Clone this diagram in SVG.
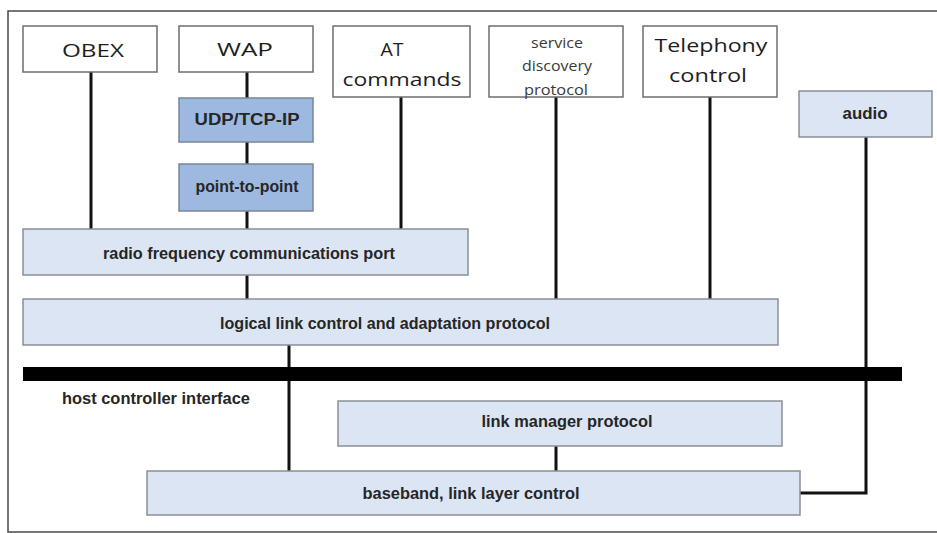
<svg xmlns="http://www.w3.org/2000/svg" width="937" height="533" viewBox="0 0 937 533">
  <style>
    .frame { fill: none; stroke: #4a4a4a; stroke-width: 1.5; }
    .top { fill: #ffffff; stroke: #6e6e6e; stroke-width: 1.5; }
    .mid { fill: #9db9df; stroke: #7a8797; stroke-width: 1.5; }
    .low { fill: #dbe5f3; stroke: #8a8f96; stroke-width: 1.5; }
    .big { font-family: "Open Sans", "DejaVu Sans", sans-serif; font-size: 19px; fill: #1e1e1e; text-anchor: middle; }
    .small { font-family: "Open Sans", "DejaVu Sans", sans-serif; font-size: 14px; fill: #3a3a3a; text-anchor: middle; }
    .lbl { font-family: "Liberation Sans", Arial, sans-serif; font-weight: bold; font-size: 16px; fill: #262626; text-anchor: middle; }
    .wire { fill: none; stroke: #111111; stroke-width: 3; }
  </style>

  <rect width="937" height="533" fill="#ffffff"/>
  <path class="frame" d="M937,11 H8 V532 H937"/>

  <!-- connectors -->
  <g id="connectors">
    <line class="wire" x1="91" y1="72" x2="91" y2="229"/>
    <line class="wire" x1="247" y1="72" x2="247" y2="98"/>
    <line class="wire" x1="247" y1="142" x2="247" y2="164"/>
    <line class="wire" x1="247" y1="211" x2="247" y2="229"/>
    <line class="wire" x1="401" y1="97" x2="401" y2="229"/>
    <line class="wire" x1="247" y1="275" x2="247" y2="299"/>
    <line class="wire" x1="556" y1="97" x2="556" y2="299"/>
    <line class="wire" x1="710" y1="97" x2="710" y2="299"/>
    <line class="wire" x1="289" y1="345" x2="289" y2="471"/>
    <line class="wire" x1="556" y1="446" x2="556" y2="471"/>
    <polyline class="wire" points="866,137 866,493 800,493"/>
  </g>

  <!-- host controller interface bar -->
  <g id="hci">
    <rect x="23" y="367" width="879" height="14" fill="#000000"/>
    <text class="lbl" x="156" y="404" textLength="188" lengthAdjust="spacingAndGlyphs">host controller interface</text>
  </g>

  <g id="obex">
    <rect class="top" x="23" y="26" width="134" height="46"/>
    <text class="big" x="93" y="57" textLength="62" lengthAdjust="spacingAndGlyphs">OBEX</text>
  </g>

  <g id="wap">
    <rect class="top" x="179" y="26" width="134" height="46"/>
    <text class="big" x="245" y="56" textLength="56" lengthAdjust="spacingAndGlyphs">WAP</text>
  </g>

  <g id="at-commands">
    <rect class="top" x="333" y="26" width="137" height="71"/>
    <text class="big" x="392" y="56" textLength="23" lengthAdjust="spacingAndGlyphs">AT</text>
    <text class="big" x="402" y="86" textLength="119" lengthAdjust="spacingAndGlyphs">commands</text>
  </g>

  <g id="sdp">
    <rect class="top" x="489" y="26" width="134" height="71"/>
    <text class="small" x="557" y="48" textLength="52" lengthAdjust="spacingAndGlyphs">service</text>
    <text class="small" x="557" y="71" textLength="70" lengthAdjust="spacingAndGlyphs">discovery</text>
    <text class="small" x="556" y="95" textLength="64" lengthAdjust="spacingAndGlyphs">protocol</text>
  </g>

  <g id="telephony">
    <rect class="top" x="643" y="26" width="134" height="71"/>
    <text class="big" x="711" y="52" textLength="113" lengthAdjust="spacingAndGlyphs">Telephony</text>
    <text class="big" x="708" y="82" textLength="78" lengthAdjust="spacingAndGlyphs">control</text>
  </g>

  <g id="audio">
    <rect class="low" x="799" y="91" width="133" height="46"/>
    <text class="lbl" x="865" y="119" textLength="45" lengthAdjust="spacingAndGlyphs">audio</text>
  </g>

  <g id="udp-tcp-ip">
    <rect class="mid" x="179" y="98" width="134" height="44"/>
    <text class="lbl" x="247" y="125" textLength="105" lengthAdjust="spacingAndGlyphs">UDP/TCP-IP</text>
  </g>

  <g id="point-to-point">
    <rect class="mid" x="179" y="164" width="134" height="47"/>
    <text class="lbl" x="247" y="192" textLength="103" lengthAdjust="spacingAndGlyphs">point-to-point</text>
  </g>

  <g id="rfcomm">
    <rect class="low" x="23" y="229" width="445" height="46"/>
    <text class="lbl" x="249" y="259" textLength="292" lengthAdjust="spacingAndGlyphs">radio frequency communications port</text>
  </g>

  <g id="l2cap">
    <rect class="low" x="23" y="299" width="755" height="46"/>
    <text class="lbl" x="385" y="329" textLength="330" lengthAdjust="spacingAndGlyphs">logical link control and adaptation protocol</text>
  </g>

  <g id="lmp">
    <rect class="low" x="338" y="401" width="444" height="45"/>
    <text class="lbl" x="567" y="427" textLength="171" lengthAdjust="spacingAndGlyphs">link manager protocol</text>
  </g>

  <g id="baseband">
    <rect class="low" x="147" y="471" width="653" height="44"/>
    <text class="lbl" x="471" y="499" textLength="217" lengthAdjust="spacingAndGlyphs">baseband, link layer control</text>
  </g>
</svg>
